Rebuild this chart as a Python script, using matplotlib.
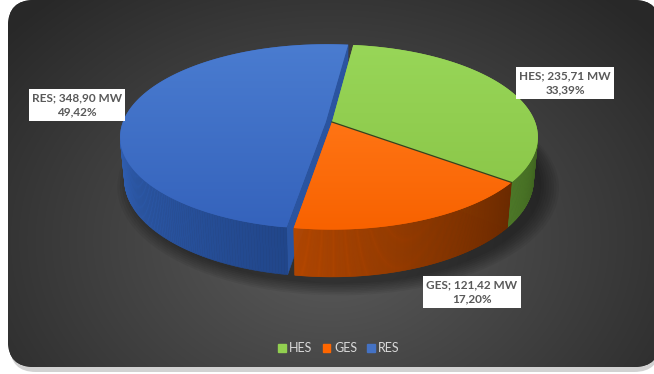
import numpy as np
import matplotlib.pyplot as plt
from matplotlib.collections import PolyCollection
from matplotlib.colors import LinearSegmentedColormap, to_rgb
from matplotlib.patches import FancyBboxPatch, Patch, Polygon

# chart data
labels = ['HES', 'GES', 'RES']
values = [235.71, 121.42, 348.90]      # MW
percents = [33.39, 17.20, 49.42]
explode = [0.0, 0.0, 0.03]
start_angle = 7.0                      # degrees, clockwise from 12 o'clock

# colours
legend_colors = ['#92D050', '#FF6600', '#4472C4']
top_light = ['#98D658', '#FF7414', '#4A7CD0']
top_dark = ['#8CC84A', '#F86200', '#3563BC']
wall_lo = ['#3E621F', '#6B2A00', '#21468A']   # wall colour at the lower visible angle
wall_hi = ['#4E7A28', '#B54700', '#2F5EB1']   # wall colour at the higher visible angle
cut_colors = ['#5A8A2E', '#A94200', '#2A54A0']

# layout (pixels)
W, H = 654, 374
SCALE = 199.0
CENTER_PX = (332, 122)
label_pos = [(565, 83), (472, 292), (77, 105)]

ELEV = np.radians(28.5)
DIST = 5.52
HEIGHT = 0.235
cam = np.array([0.0, DIST * np.sin(ELEV), DIST * np.cos(ELEV)])


def project(x, y, z):
    yc = y * np.cos(ELEV) - z * np.sin(ELEV)
    zc = y * np.sin(ELEV) + z * np.cos(ELEV)
    f = DIST / (DIST - zc)
    return x * f, yc * f


fig = plt.figure(figsize=(W / 100, H / 100), dpi=100)
fig.patch.set_facecolor('white')

# background panel with radial gradient
bg = fig.add_axes([0, 0, 1, 1])
bg.set_xlim(0, W)
bg.set_ylim(H, 0)
bg.axis('off')

shadow = FancyBboxPatch((10, 4), 650, 368, boxstyle='round,pad=0,rounding_size=26',
                        fc='#d2d2d2', ec='none', zorder=1)
bg.add_patch(shadow)
panel = FancyBboxPatch((8, 0), 652, 367, boxstyle='round,pad=0,rounding_size=26',
                       fc='#2a2a2a', ec='none', zorder=1.1)
bg.add_patch(panel)
yy, xx = np.mgrid[0:H, 0:W]
r = np.sqrt(((xx - 330) / 420.0) ** 2 + ((yy - 240) / 320.0) ** 2)
val = np.clip(0.36 - 0.2 * r, 0.16, 1)
img = np.dstack([val, val, val])
im = bg.imshow(img, extent=(0, W, H, 0), interpolation='bilinear', aspect='auto', zorder=1.2)
im.set_clip_path(panel)

# pie axes, in pie units
ax = fig.add_axes([0, 0, 1, 1])
ax.axis('off')

fracs = np.array(values) / sum(values)
edges = start_angle + 360 * np.concatenate([[0], np.cumsum(fracs)])

# soft shadow under the pie
for k in range(8):
    a = np.linspace(0, 2 * np.pi, 200)
    rr = 1.0 + 0.012 * k
    sx, sy = project(rr * np.sin(a) + 0.03, np.zeros_like(a), -rr * np.cos(a) + 0.05)
    ax.fill(sx, sy, color='black', alpha=0.06, lw=0, zorder=1)

faces = []   # (depth, polygon, colour)
tops = []
for i in range(len(values)):
    a0, a1 = np.radians(edges[i]), np.radians(edges[i + 1])
    mid = (a0 + a1) / 2
    dx, dz = explode[i] * np.sin(mid), -explode[i] * np.cos(mid)
    n = 240
    ang = np.linspace(a0, a1, n)
    rx, rz = np.sin(ang) + dx, -np.cos(ang) + dz

    # top face
    tx, ty = project(np.r_[dx, rx], np.full(n + 1, HEIGHT), np.r_[dz, rz])
    tops.append((tx, ty))

    # outer wall
    ux, uy = project(rx, np.full(n, HEIGHT), rz)
    bx, by = project(rx, np.zeros(n), rz)
    facing = np.sin(ang) * (cam[0] - rx) - np.cos(ang) * (cam[2] - rz) > 0
    if facing.any():
        vlo, vhi = ang[facing].min(), ang[facing].max()
        c_lo, c_hi = np.array(to_rgb(wall_lo[i])), np.array(to_rgb(wall_hi[i]))
        for j in range(n - 1):
            if facing[j] and facing[j + 1]:
                t = ((ang[j] + ang[j + 1]) / 2 - vlo) / max(vhi - vlo, 1e-9)
                col = c_lo + (c_hi - c_lo) * t
                quad = [(ux[j], uy[j]), (ux[j + 1], uy[j + 1]),
                        (bx[j + 1], by[j + 1]), (bx[j], by[j])]
                p = np.array([(rx[j] + rx[j + 1]) / 2, HEIGHT / 2, (rz[j] + rz[j + 1]) / 2])
                faces.append((np.linalg.norm(cam - p), quad, col))

    # radial cut faces
    for a, sgn in [(a0, -1), (a1, 1)]:
        nv = sgn * np.array([np.cos(a), 0, np.sin(a)])
        p = np.array([dx + 0.5 * np.sin(a), HEIGHT / 2, dz - 0.5 * np.cos(a)])
        if nv @ (cam - p) > 0:
            px, py = project(np.array([dx, dx + np.sin(a), dx + np.sin(a), dx]),
                             np.array([HEIGHT, HEIGHT, 0, 0]),
                             np.array([dz, dz - np.cos(a), dz - np.cos(a), dz]))
            faces.append((np.linalg.norm(cam - p), list(zip(px, py)), to_rgb(cut_colors[i])))

faces.sort(key=lambda f: -f[0])
pc = PolyCollection([f[1] for f in faces], facecolors=[f[2] for f in faces],
                    edgecolors=[f[2] for f in faces], linewidths=0.4, zorder=2)
ax.add_collection(pc)

for i, (tx, ty) in enumerate(tops):
    poly = Polygon(np.column_stack([tx, ty]), closed=True, fc=top_dark[i], ec='none', zorder=3)
    ax.add_patch(poly)
    cmap = LinearSegmentedColormap.from_list('top%d' % i, [top_light[i], top_dark[i]])
    grad = np.linspace(0, 1, 64)[:, None]
    g = ax.imshow(grad, cmap=cmap, extent=(tx.min(), tx.max(), ty.min(), ty.max()),
                  origin='upper', aspect='auto', interpolation='bilinear', zorder=3.1)
    g.set_clip_path(poly)

# thin dark seam between HES and GES
a = np.radians(edges[1])
sx, sy = project(np.array([0, np.sin(a)]), np.array([HEIGHT, HEIGHT]), np.array([0, -np.cos(a)]))
ax.plot(sx, sy, color='#34431f', lw=0.9, zorder=4)

u0, v0 = project(0.0, HEIGHT, 0.0)
ax.set_xlim(u0 - CENTER_PX[0] / SCALE, u0 + (W - CENTER_PX[0]) / SCALE)
ax.set_ylim(v0 - (H - CENTER_PX[1]) / SCALE, v0 + CENTER_PX[1] / SCALE)

# data labels
for i in range(len(values)):
    txt = '%s; %s MW\n%s%%' % (labels[i], ('%.2f' % values[i]).replace('.', ','),
                               ('%.2f' % percents[i]).replace('.', ','))
    x, y = label_pos[i]
    fig.text(x / W, 1 - y / H, txt, ha='center', va='center', fontsize=8.5, color='#595959',
             fontweight='bold', family='Lato', linespacing=1.4,
             bbox=dict(boxstyle='square,pad=0.25', fc='white', ec='none'))

handles = [Patch(color=c) for c in legend_colors]
fig.legend(handles, labels, loc='center', bbox_to_anchor=(339 / W, 1 - 348 / H), ncol=3,
           frameon=False, handlelength=0.6, handleheight=0.6, handletextpad=0.3,
           columnspacing=0.8, prop={'family': 'Lato', 'size': 9}, labelcolor='#d9d9d9')

fig.savefig('out.png', dpi=100)
